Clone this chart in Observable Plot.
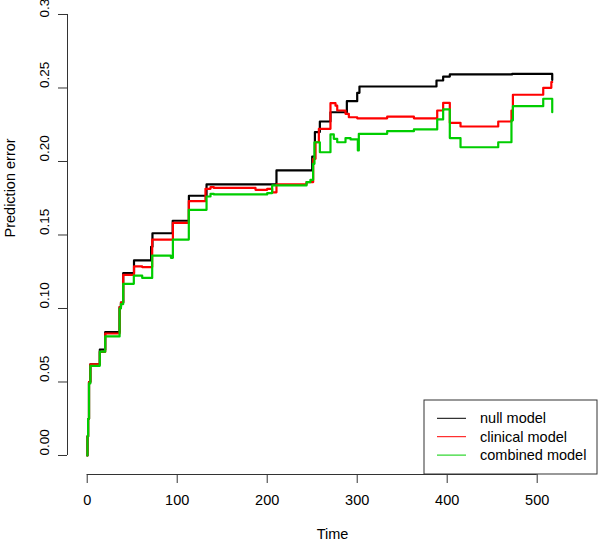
<!DOCTYPE html>
<html>
<head>
<meta charset="utf-8">
<script src="https://cdn.jsdelivr.net/npm/d3@7"></script>
<script src="https://cdn.jsdelivr.net/npm/@observablehq/plot@0.6"></script>
<style>
  html, body { margin: 0; padding: 0; background: #fff; }
  #chart { width: 600px; height: 541px; position: relative; }
</style>
</head>
<body>
<div id="chart"></div>
<script>
// ---- data ----
const seriesNames = ["null model", "clinical model", "combined model"];
const seriesColors = ["#000000", "#FF0000", "#00CD00"];

const nullTime = [0, 0.3, 1, 2, 3.5, 14, 20, 36, 37.5, 40, 52, 71, 72.5, 95, 113, 132.6, 210.3, 250, 253, 258.5, 270.3, 288.5, 300, 302.5, 388.1, 395.5, 402.9, 472.2, 516.7];
const nullErr  = [0, 0.013, 0.025, 0.05, 0.062, 0.072, 0.084, 0.101, 0.104, 0.124, 0.1327, 0.142, 0.1512, 0.1597, 0.1767, 0.1844, 0.1939, 0.2034, 0.22, 0.2272, 0.2335, 0.241, 0.2467, 0.251, 0.2551, 0.2578, 0.2592, 0.2596, 0.2555];

const clinTime = [0, 0.3, 1, 2, 3.5, 14, 20, 36, 37.5, 40, 52, 61, 72.2, 95.2, 112.9, 131.4, 137, 140.7, 187, 200, 205.5, 210.3, 243.7, 251.1, 253.7, 257.4, 270.3, 275.9, 277.8, 287, 290.7, 300, 333.3, 363, 388.9, 395.5, 402.9, 414.8, 456.7, 471.4, 473, 506.7, 515.7, 516.7];
const clinErr  = [0, 0.013, 0.025, 0.05, 0.062, 0.0705, 0.083, 0.101, 0.104, 0.1229, 0.1286, 0.1282, 0.1469, 0.1583, 0.173, 0.1814, 0.1825, 0.182, 0.1807, 0.1814, 0.179, 0.1844, 0.186, 0.2018, 0.2131, 0.2222, 0.2397, 0.238, 0.2347, 0.2324, 0.2301, 0.2294, 0.2305, 0.2294, 0.2347, 0.2399, 0.2263, 0.2238, 0.2272, 0.2347, 0.2454, 0.2501, 0.254, 0.254];

const combTime = [0, 0.3, 1, 2, 3.5, 14, 20, 36, 37.5, 40, 51.8, 61.1, 72.2, 93, 95.2, 112.9, 132.6, 137, 140.7, 200, 205.5, 243.7, 248, 251, 252.5, 258.5, 270.3, 274, 277.8, 287, 292.6, 300.7, 301.8, 333.3, 363, 388.9, 395.5, 402.9, 414.8, 456.7, 471.4, 473, 506.7, 516.7];
const combErr  = [0, 0.013, 0.025, 0.049, 0.061, 0.0706, 0.081, 0.1, 0.103, 0.1168, 0.1224, 0.1208, 0.136, 0.1345, 0.1469, 0.1671, 0.1762, 0.178, 0.1776, 0.1785, 0.1837, 0.1859, 0.1875, 0.1984, 0.2131, 0.2063, 0.2184, 0.2154, 0.2131, 0.2159, 0.215, 0.2075, 0.2188, 0.2206, 0.2218, 0.2286, 0.2354, 0.2159, 0.2097, 0.2131, 0.228, 0.2376, 0.2427, 0.2335];

const xTicks = [0, 100, 200, 300, 400, 500];
const yTicks = [0, 0.05, 0.10, 0.15, 0.20, 0.25, 0.30];
const xLabel = "Time";
const yLabel = "Prediction error";

// ---- build ----
const toRows = (ts, vs) => ts.map((t, i) => ({t, v: vs[i]}));
const series = [toRows(nullTime, nullErr), toRows(clinTime, clinErr), toRows(combTime, combErr)];

const xDomain = [-21.9, 567];
const yDomain = [-0.01293, 0.30952];
const FONT = "'Liberation Sans', Arial, Helvetica, sans-serif";
const FS = 14.5;
const TFS = 13.5;
const yTicksLow = yTicks.slice(0, -1);
const yTickTop = yTicks.slice(-1);

const chart = Plot.plot({
  width: 600,
  height: 541,
  marginLeft: 67,
  marginRight: 3,
  marginTop: 0,
  marginBottom: 67,
  style: {fontFamily: FONT, fontSize: FS + "px", background: "#fff", color: "#000", overflow: "visible"},
  x: {domain: xDomain, label: null},
  y: {domain: yDomain, label: null},
  marks: [
    // axes (R base style)
    Plot.axisX({ticks: xTicks, tickSize: 9, tickFormat: () => "", label: null, stroke: "#333"}),
    Plot.axisY({ticks: yTicks, tickSize: 9, tickFormat: () => "", label: null, stroke: "#333"}),
    Plot.ruleY([yDomain[0]], {x1: xTicks[0], x2: xTicks[xTicks.length - 1], stroke: "#333"}),
    Plot.ruleX([xDomain[0]], {y1: yTicks[0], y2: yTicks[yTicks.length - 1], stroke: "#333"}),
    Plot.text(xTicks, {x: d => d, frameAnchor: "bottom", dy: 26, lineAnchor: "middle", text: d => String(d), fontSize: FS}),
    Plot.text(yTicksLow, {y: d => d, frameAnchor: "left", dx: -23, rotate: -90, lineAnchor: "middle", text: d => d.toFixed(2), fontSize: TFS}),
    Plot.text(yTickTop, {y: d => d, frameAnchor: "left", dx: -23, dy: 3, rotate: -90, lineAnchor: "middle", text: d => d.toFixed(2), fontSize: TFS}),
    Plot.text([xLabel], {frameAnchor: "bottom", dy: 60, lineAnchor: "middle", text: d => d, fontSize: FS}),
    Plot.text([yLabel], {frameAnchor: "left", dx: -57, rotate: -90, lineAnchor: "middle", text: d => d, fontSize: FS}),
    // lines
    ...series.map((rows, i) => Plot.line(rows, {x: "t", y: "v", curve: "step-after", stroke: seriesColors[i], strokeWidth: 2.2}))
  ]
});

// legend (bottom-right, inside the plot region)
const svg = d3.select(chart);
const lg = svg.append("g").attr("font-family", FONT).attr("font-size", FS).attr("text-anchor", "start");
const boxX = 424, boxY = 400, boxW = 173, boxH = 74;
lg.append("rect").attr("x", boxX).attr("y", boxY).attr("width", boxW).attr("height", boxH)
  .attr("fill", "#fff").attr("stroke", "#333").attr("stroke-width", 1);
seriesNames.forEach((name, i) => {
  const yy = boxY + 18.3 + i * 18.4;
  lg.append("line").attr("x1", boxX + 13).attr("x2", boxX + 42).attr("y1", yy).attr("y2", yy)
    .attr("stroke", seriesColors[i]).attr("stroke-width", 1);
  lg.append("text").attr("x", boxX + 56).attr("y", yy).attr("dy", "0.35em")
    .attr("text-anchor", "start").attr("fill", "#000").text(name);
});

document.getElementById("chart").appendChild(chart);
</script>
</body>
</html>
